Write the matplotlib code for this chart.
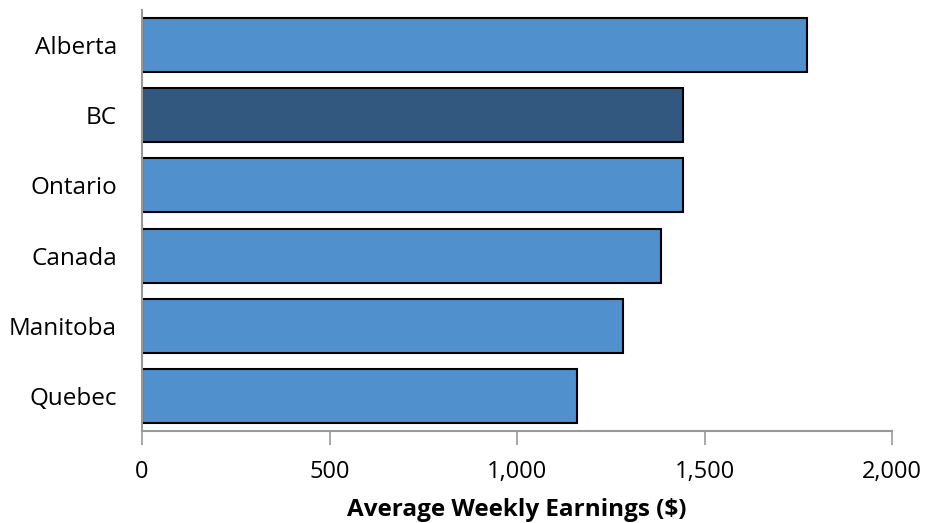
import matplotlib
matplotlib.use("Agg")
import matplotlib.pyplot as plt

categories = ["Alberta", "BC", "Ontario", "Canada", "Manitoba", "Quebec"]
values = [1773, 1443, 1442, 1383, 1282, 1160]
highlight = "BC"
xticks = [0, 500, 1000, 1500, 2000]
xticklabels = ["0", "500", "1,000", "1,500", "2,000"]

plt.rcParams['font.family'] = ['Open Sans', 'DejaVu Sans']

fig = plt.figure(figsize=(9.25, 5.23), dpi=100)
ax = fig.add_axes([142/925, 1 - 431/523, 750/925, 421/523])

colors = ["#33587F" if c == highlight else "#4F90CD" for c in categories]
ax.barh(range(len(categories)), values, height=0.77, color=colors,
        edgecolor="black", linewidth=1.5)
ax.set_ylim(5.5, -0.5)
ax.set_xlim(0, 2000)
ax.set_yticks(range(len(categories)))
ax.set_yticklabels(categories, fontsize=17.5)
ax.set_xticks(xticks)
ax.set_xticklabels(xticklabels, fontsize=17)
ax.tick_params(axis='y', length=0, pad=18)
ax.tick_params(axis='x', length=10, width=1.2, color="#999999", pad=11)
for s in ["top", "right"]:
    ax.spines[s].set_visible(False)
for s in ["left", "bottom"]:
    ax.spines[s].set_color("#999999")
    ax.spines[s].set_linewidth(1.5)
ax.set_xlabel("Average Weekly Earnings ($)", fontsize=17.5, fontweight="bold", labelpad=10)

fig.savefig("out.png", dpi=100)
